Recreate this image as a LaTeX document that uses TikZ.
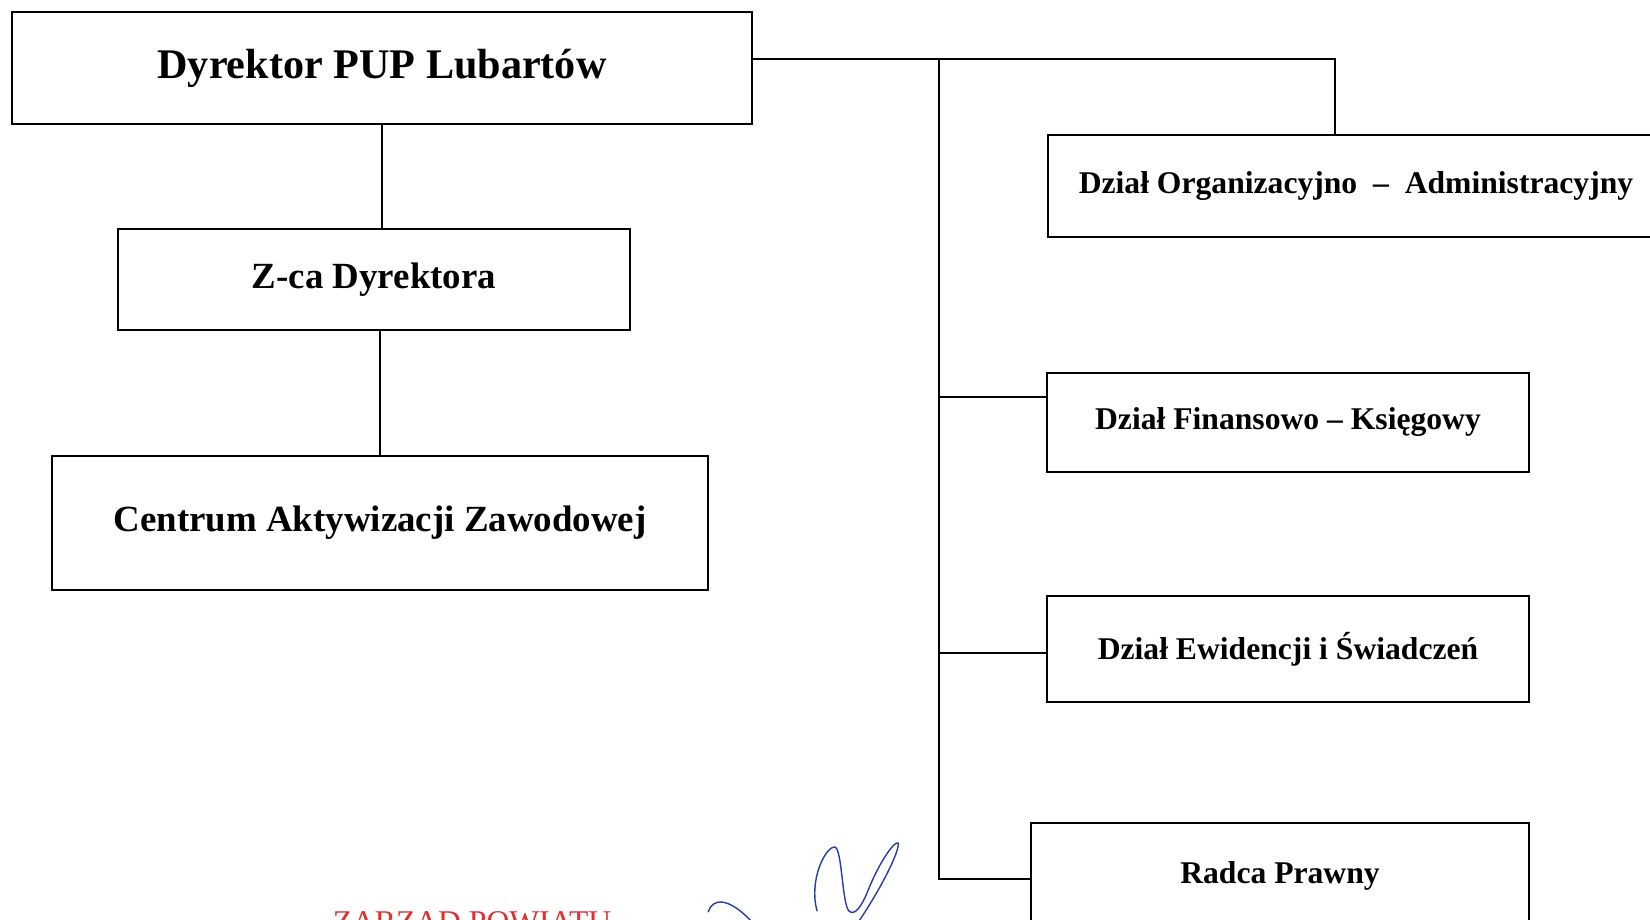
\documentclass[tikz,border=0pt]{standalone}
\usepackage{fontspec}
\setmainfont{Liberation Serif}
\usetikzlibrary{positioning,calc}
\definecolor{stampred}{RGB}{225,45,45}
\definecolor{inkblue}{RGB}{40,60,170}

\begin{document}
\begin{tikzpicture}[
    box/.style={draw,line width=1.1pt,inner sep=0pt,align=center,font=\bfseries\fontsize{18}{22}\selectfont},
    big/.style={font=\bfseries\fontsize{21}{25}\selectfont},
    link/.style={line width=0.9pt}
]
\useasboundingbox (0,0) rectangle (33,-18.4);

% left column
\node[box,font=\bfseries\fontsize{24}{28}\selectfont,minimum width=14.8cm,minimum height=2.24cm] (dyr) at (7.64,-1.36) {Dyrektor PUP Lubartów};
\node[box,big,minimum width=10.24cm,minimum height=2.02cm,below=2.06cm of dyr,xshift=-0.16cm] (zca) {Z-ca Dyrektora};
\node[box,big,minimum width=13.12cm,minimum height=2.68cm,below=2.48cm of zca,xshift=0.12cm] (cen) {Centrum Aktywizacji Zawodowej};

\draw[link] (dyr.south) -- (dyr.south |- zca.north);
\draw[link] ([xshift=0.12cm]zca.south) -- ([xshift=0.12cm]zca.south |- cen.north);

% right column
\node[box,minimum width=12.32cm,minimum height=2.04cm,anchor=north west] (org) at (20.94,-2.68) {Dział Organizacyjno ~–~ Administracyjny};
\node[box,minimum width=9.64cm,minimum height=1.98cm] (fin) at (25.76,-8.45) {Dział Finansowo – Księgowy};
\node[box,minimum width=9.64cm,minimum height=2.12cm] (ewi) at (25.76,-12.98) {Dział Ewidencji i Świadczeń};
\node[box,minimum width=9.96cm,minimum height=2.12cm] (rad) at (25.6,-17.52) {Radca Prawny};

\coordinate (bus) at (18.78,-1.18);
\draw[link] ([yshift=1.8mm]dyr.east) -- (bus) -| ([xshift=-4.2mm]org.north);
\draw[link] (bus) |- ([yshift=-0.6mm]rad.west);
\draw[link] (bus |- fin.west) ++(0,0.51) -- ([yshift=5.1mm]fin.west);
\draw[link] (bus |- ewi.west) ++(0,-0.08) -- ([yshift=-0.8mm]ewi.west);

% stamp and signature
\node[anchor=north,inner sep=0pt,text=stampred,font=\fontsize{18}{22}\selectfont] (stamp) at (9.44,-18.22) {ZARZĄD POWIATU};
\begin{scope}[x=0.02cm,y=-0.02cm,inkblue,line width=0.8pt]
\draw (708,912) .. controls (712,898) and (728,896) .. (752,922);
\draw (817,911) .. controls (808,880) and (826,845) .. (835,847)
    .. controls (842,850) and (842,905) .. (849,911)
    .. controls (855,916) and (862,905) .. (868,890)
    .. controls (880,860) and (895,840) .. (898,843)
    .. controls (900,850) and (880,890) .. (858,922);
\end{scope}
\end{tikzpicture}
\end{document}
